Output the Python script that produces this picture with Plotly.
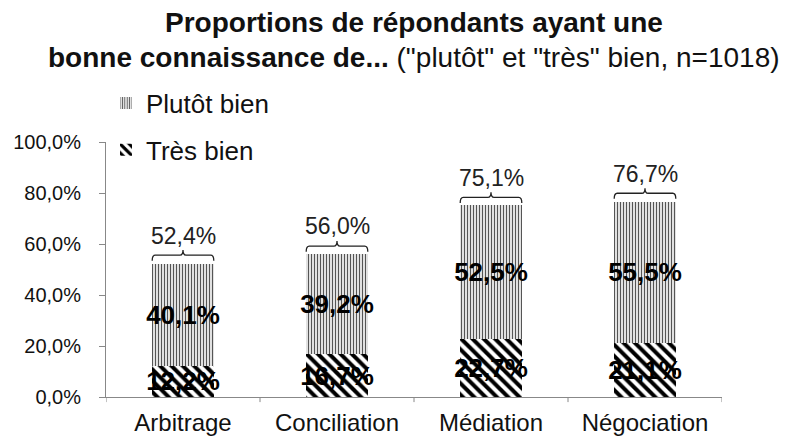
import plotly.graph_objects as go

categories = ["Arbitrage", "Conciliation", "Médiation", "Négociation"]
tres_bien = [12.2, 16.7, 22.7, 21.1]
plutot_bien = [40.1, 39.2, 52.5, 55.5]
totals = [52.4, 56.0, 75.1, 76.7]
y_ticks = [0, 20, 40, 60, 80, 100]
y_tick_labels = [f"{v:.1f}%".replace(".", ",") for v in y_ticks]

FONT = "Liberation Sans, Arial, sans-serif"
xs = list(range(len(categories)))
BW = 0.4

fig = go.Figure()
fig.add_trace(go.Bar(
    x=xs, y=tres_bien, name="Très bien", width=BW, legendgroup="b", legendrank=2,
    marker=dict(color="white", line=dict(width=0),
                pattern=dict(shape="\\", fgcolor="#000", bgcolor="white", fgopacity=1,
                             size=8, solidity=0.5)),
    texttemplate="<b>%{y:.1f}%</b>", textposition="inside", insidetextanchor="middle",
    textangle=0, constraintext="none",
    textfont=dict(family=FONT, size=26, color="black"),
))
fig.add_trace(go.Bar(
    x=xs, y=plutot_bien, name="Plutôt bien", width=BW, legendgroup="a", legendrank=1,
    marker=dict(color="white", line=dict(width=0),
                pattern=dict(shape="|", fgcolor="#555", bgcolor="white", fgopacity=1,
                             size=3, solidity=0.45)),
    texttemplate="<b>%{y:.1f}%</b>", textposition="inside", insidetextanchor="middle",
    textangle=0, constraintext="none",
    textfont=dict(family=FONT, size=26, color="black"),
))

for i, t in enumerate(totals):
    x0, x1, xm = i - BW / 2, i + BW / 2, i
    y1, y2, y3 = t + 1.0, t + 3.2, t + 5.2
    d = 0.02
    path = (f"M {x0},{y1} Q {x0},{y2} {x0+d},{y2} L {xm-d},{y2} Q {xm},{y2} {xm},{y3} "
            f"Q {xm},{y2} {xm+d},{y2} L {x1-d},{y2} Q {x1},{y2} {x1},{y1}")
    fig.add_shape(type="path", path=path, xref="x", yref="y",
                  line=dict(color="#222", width=1.3))
    fig.add_annotation(x=i, y=t + 5.0, text=f"{t:.1f}%".replace(".", ","), showarrow=False,
                       yanchor="bottom", font=dict(family=FONT, size=23, color="#222"))

fig.add_annotation(x=0.5, y=1.467, xref="paper", yref="paper", showarrow=False,
                   xanchor="center", yanchor="middle",
                   text="<b>Proportions de répondants ayant une</b>",
                   font=dict(family=FONT, size=28, color="#111"))
fig.add_annotation(x=0.5, y=1.333, xref="paper", yref="paper", showarrow=False,
                   xanchor="center", yanchor="middle",
                   text="<b>bonne connaissance de...</b> (\"plutôt\" et \"très\" bien, n=1018)",
                   font=dict(family=FONT, size=28, color="#111"))

fig.update_layout(
    barmode="stack",
    width=785, height=439,
    margin=dict(l=106, r=63, t=142, b=42, autoexpand=False),
    paper_bgcolor="white", plot_bgcolor="white",
    separators=", ",
    font=dict(family=FONT, color="#111"),
    showlegend=True,
    legend=dict(x=0.0, y=1.245, xanchor="left", yanchor="top", bgcolor="rgba(0,0,0,0)",
                traceorder="grouped", tracegroupgap=10, itemwidth=30,
                font=dict(family=FONT, size=26, color="#111")),
    uniformtext=dict(minsize=26, mode="show"),
    xaxis=dict(
        tickvals=xs, ticktext=categories, range=[-0.5, len(categories) - 0.5],
        showline=True, linecolor="#888", linewidth=1, showgrid=False, zeroline=False,
        ticks="", automargin=False, ticklabelstandoff=4,
        tickfont=dict(family=FONT, size=24, color="#111"),
    ),
    yaxis=dict(
        range=[0, 100], tickvals=y_ticks, ticktext=y_tick_labels,
        showline=True, linecolor="#888", linewidth=1, showgrid=False, zeroline=False,
        ticks="outside", ticklen=6, tickcolor="#888", ticklabelstandoff=14, automargin=False,
        tickfont=dict(family=FONT, size=20, color="#111"),
    ),
)

# boundary ticks between categories
for b in [i + 0.5 for i in xs[:-1]] + [-0.5, len(categories) - 0.5]:
    fig.add_shape(type="line", xref="x", yref="paper", x0=b, x1=b, y0=0, y1=-0.02,
                  line=dict(color="#888", width=1))

fig.write_html("out.html", config={"displayModeBar": False},
               post_script="document.body.style.margin='0';")
